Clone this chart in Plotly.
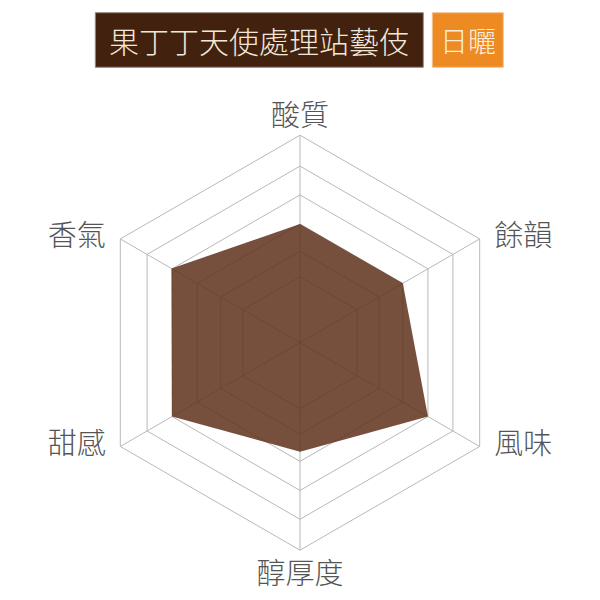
import plotly.graph_objects as go

# flavour profile, clockwise from the top
categories = ["酸質", "餘韻", "風味", "醇厚度", "甜感", "香氣"]
scores = [5.72, 5.72, 7.12, 5.25, 7.12, 7.15]

# ring levels (outer = 10)
ring_levels = [3.18, 4.41, 5.72, 7.12, 8.51, 10]
outer = 10
r_max = 10.6  # a little room past the outer ring for the labels

title_main = "果丁丁天使處理站藝伎"
title_tag = "日曬"

grid = "#b8b8b8"
cjk = "Noto Sans CJK TC"
gap = "\u2002"

# the page body adds an 8px margin, so pixel positions are shifted back by it
OFF = 8
cx, cy, R = 300, 342.7, 207.5 * r_max / outer


def px(x):
    return (x - OFF) / 600


def py(y):
    return 1 - (y - OFF) / 600


# label placement round the hexagon
positions = ["top center", "middle right", "middle right",
             "bottom center", "middle left", "middle left"]
label_r = [outer + 0.1, outer, outer, outer + 0.58, outer, outer]
labels = []
for c, pos in zip(categories, positions):
    if pos == "middle right":
        labels.append(gap + c)
    elif pos == "middle left":
        labels.append(c + gap)
    else:
        labels.append(c)

# spokes from the centre to the outer ring
spoke_r, spoke_t = [], []
for c in categories:
    spoke_r += [0, outer, None]
    spoke_t += [c, c, None]

fig = go.Figure()
fig.add_trace(go.Scatterpolar(
    r=spoke_r, theta=spoke_t, mode="lines",
    line=dict(color=grid, width=1), connectgaps=False, hoverinfo="skip",
))
fig.add_trace(go.Scatterpolar(
    r=scores + scores[:1],
    theta=categories + categories[:1],
    mode="lines",
    fill="toself",
    fillcolor="rgba(94,49,27,0.85)",
    line=dict(width=0, color="rgba(0,0,0,0)"),
    hoverinfo="skip",
))
fig.add_trace(go.Scatterpolar(
    r=label_r,
    theta=categories,
    mode="text",
    text=labels,
    textposition=positions,
    textfont=dict(family=cjk, size=29, color="#555555", weight=300),
    cliponaxis=False,
    hoverinfo="skip",
))

fig.update_layout(
    width=600, height=600,
    margin=dict(l=0, r=0, t=0, b=0),
    paper_bgcolor="white",
    showlegend=False,
    polar=dict(
        domain=dict(x=[px(cx - R), px(cx + R)], y=[py(cy + R), py(cy - R)]),
        bgcolor="white",
        gridshape="linear",
        radialaxis=dict(
            range=[0, r_max],
            tickmode="array",
            tickvals=ring_levels,
            showticklabels=False,
            ticks="",
            showline=False,
            gridcolor=grid,
            gridwidth=1,
        ),
        angularaxis=dict(
            direction="clockwise",
            rotation=90,
            showline=False,
            showgrid=False,
            ticks="",
            showticklabels=False,
        ),
    ),
)

# title boxes
fig.add_shape(type="rect", xref="paper", yref="paper",
              x0=px(95.3), x1=px(423.3), y0=py(67.3), y1=py(12.7),
              fillcolor="#42210f", line=dict(color="#9c8a7e", width=1), layer="below")
fig.add_shape(type="rect", xref="paper", yref="paper",
              x0=px(432.3), x1=px(503.3), y0=py(67.3), y1=py(12.7),
              fillcolor="#ee8a22", line=dict(color="#f3c393", width=1), layer="below")
fig.add_annotation(text=title_main, xref="paper", yref="paper",
                   x=px(259.3), y=py(40), showarrow=False,
                   xanchor="center", yanchor="middle",
                   font=dict(family=cjk, size=30, color="#f3e8d8", weight=300))
fig.add_annotation(text=title_tag, xref="paper", yref="paper",
                   x=px(467.8), y=py(40), showarrow=False,
                   xanchor="center", yanchor="middle",
                   font=dict(family=cjk, size=28, color="#fbeedd", weight=300))

fig.write_html("out.html")
